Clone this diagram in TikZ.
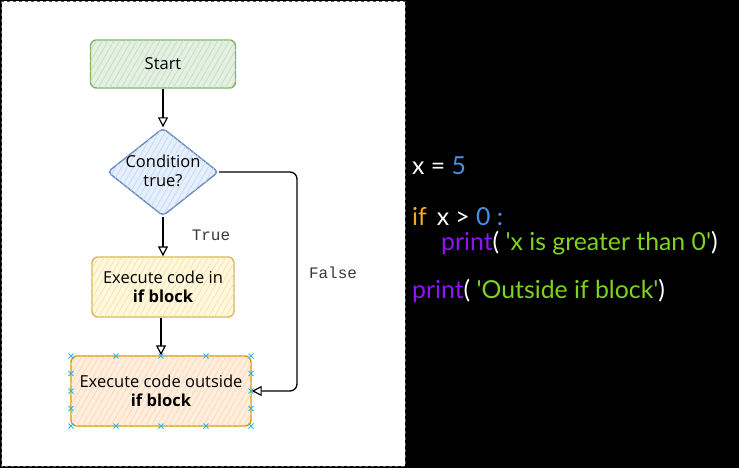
\documentclass[tikz,border=0pt]{standalone}
\usepackage{fontspec}
\setmainfont{Open Sans}
\newfontfamily\codefont{Lato}
\newfontfamily\sketchfont{Open Sans}
\newfontfamily\labelfont{Liberation Mono}
\usetikzlibrary{arrows.meta,shapes.geometric,patterns.meta}
\definecolor{gline}{HTML}{82B366}\definecolor{gfill}{HTML}{E3F0E2}\definecolor{ghatch}{HTML}{C2DEC0}
\definecolor{bline}{HTML}{6C8EBF}\definecolor{bfill}{HTML}{E6EFFC}\definecolor{bhatch}{HTML}{C4D8F5}
\definecolor{yline}{HTML}{D6B656}\definecolor{yfill}{HTML}{FFF7DE}\definecolor{yhatch}{HTML}{F7E3A8}
\definecolor{oline}{HTML}{D79B00}\definecolor{ofill}{HTML}{FFEEDD}\definecolor{ohatch}{HTML}{FBD7B2}
\definecolor{handle}{HTML}{29B6F2}
\definecolor{cblue}{HTML}{4A90E2}\definecolor{corange}{HTML}{F5A623}
\definecolor{cpurple}{HTML}{9013FE}\definecolor{cgreen}{HTML}{7ED321}
\definecolor{lblgray}{HTML}{3A3A3A}
\tikzset{
  sk/.style={font=\sketchfont\fontsize{16.5}{19}\selectfont, text=black, align=center, inner sep=0pt, rounded corners=6pt, line width=1.4pt},
  hatch/.style={postaction={pattern={Lines[angle=60,distance=5pt,line width=0.7pt]}, pattern color=#1}},
  greenbox/.style={sk, draw=gline, fill=gfill, hatch=ghatch},
  bluedia/.style={sk, shape=diamond, draw=bline, fill=bfill, hatch=bhatch, rounded corners=4pt},
  yellowbox/.style={sk, draw=yline, fill=yfill, hatch=yhatch},
  orangebox/.style={sk, draw=oline, fill=ofill, hatch=ohatch},
  arr/.style={draw=black, line width=1.3pt, -{Triangle[open,length=10pt,width=10pt,line width=1.2pt]}},
  lbl/.style={font=\labelfont\fontsize{16}{18}\selectfont, text=lblgray, inner sep=0pt},
  code/.style={font=\codefont\fontsize{24.8}{28}\selectfont, text=white, anchor=base west, inner sep=0pt},
  hx/.style={draw=handle, line width=0.8pt},
}
\begin{document}
\begin{tikzpicture}[x=1pt,y=-1pt]
\useasboundingbox (0,0) rectangle (739,468);
\fill[black] (0,0) rectangle (739,468);
\fill[white] (1.5,1.5) rectangle (405,466);
\draw[black!65, dashed, line width=1pt] (1.5,1.5) rectangle (405,466);

\node[greenbox, minimum width=145pt, minimum height=48pt] (start) at (163,64) {Start};
\node[bluedia, minimum width=111pt, minimum height=88pt] (cond) at (163,172) {};
\node[sk, draw=none, fill=none] (condtxt) at (163,171) {Condition\\true?};
\node[yellowbox, minimum width=142pt, minimum height=60pt] (blk) at (163,287) {Execute code in\\\textbf{if block}};
\node[orangebox, minimum width=180pt, minimum height=70pt] (out) at (161,391) {Execute code outside\\\textbf{if block}};

\coordinate (fx) at (297,272);
\draw[arr] (start) -- (cond);
\draw[arr] (cond) -- (blk);
\draw[arr] (blk.south -| out.north) -- (out.north);
\draw[arr, rounded corners=7pt] (cond.east) -| (fx) |- (out.east);

\node[lbl] (ltrue) at (211,235) {True};
\node[lbl] (lfalse) at (333,273) {False};

\foreach \x in {71,116,161,206,251} {
  \foreach \y in {356,426} {
    \draw[hx] (\x-2.5,\y-2.5) -- (\x+2.5,\y+2.5) (\x-2.5,\y+2.5) -- (\x+2.5,\y-2.5);
  }
}
\foreach \y in {373.5,391,408.5} {
  \foreach \x in {71,251} {
    \draw[hx] (\x-2.5,\y-2.5) -- (\x+2.5,\y+2.5) (\x-2.5,\y+2.5) -- (\x+2.5,\y-2.5);
  }
}

\node[code] (l1) at (412,175) {x = \textcolor{cblue}{5}};
\node[code] (l2) at (412,225) {\textcolor{corange}{if}\hspace{0.4em}x > \textcolor{cblue}{0 :}};
\node[code] (l3) at (441,250) {\textcolor{cpurple}{print}( \textcolor{cgreen}{'x is greater than 0'})};
\node[code] (l4) at (412,298) {\textcolor{cpurple}{print}( \textcolor{cgreen}{'Outside if block'})};
\end{tikzpicture}
\end{document}
